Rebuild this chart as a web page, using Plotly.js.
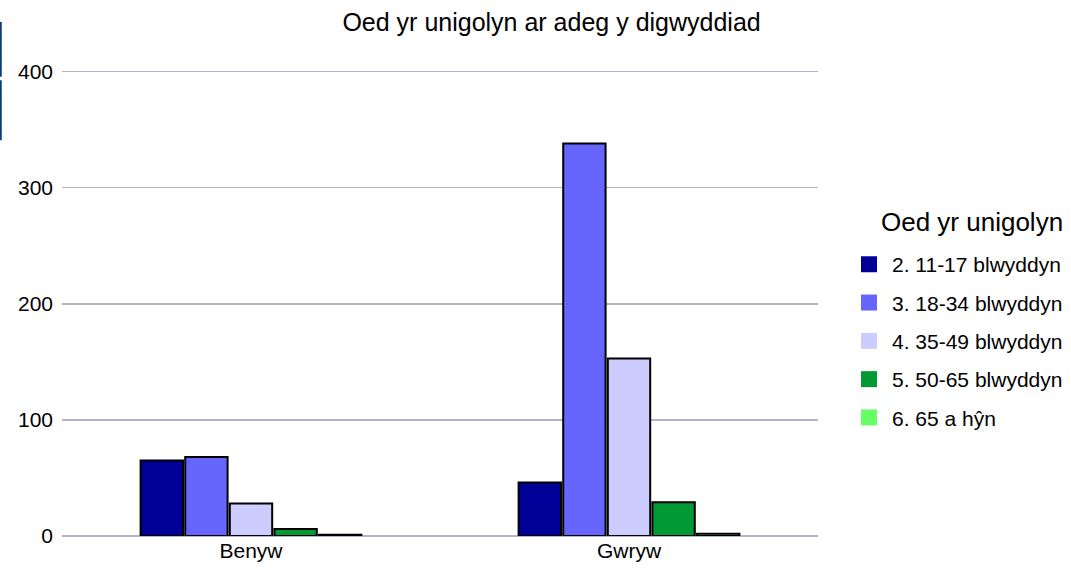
<!DOCTYPE html>
<html>
<head>
<meta charset="utf-8">
<script src="https://cdn.plot.ly/plotly-3.0.1.min.js"></script>
<style>html,body{margin:0;padding:0;background:#fff;}#chart{width:1071px;height:573px;}</style>
</head>
<body>
<div id="chart"></div>
<script>
const categories = ["Benyw", "Gwryw"];
const seriesNames = ["2. 11-17 blwyddyn", "3. 18-34 blwyddyn", "4. 35-49 blwyddyn", "5. 50-65 blwyddyn", "6. 65 a hŷn"];
const s2 = [65, 46];
const s3 = [68, 338];
const s4 = [28, 153];
const s5 = [6, 29];
const s6 = [1, 2];
const seriesValues = [s2, s3, s4, s5, s6];
const colors = ["#000099", "#6666ff", "#ccccff", "#009933", "#66ff66"];
const yTicks = [0, 100, 200, 300, 400];
const legendTitle = "Oed yr unigolyn";
const chartTitle = "Oed yr unigolyn ar adeg y digwyddiad";

const barTraces = seriesNames.map((name, i) => ({
  type: "bar",
  name: name,
  x: categories,
  y: seriesValues[i],
  showlegend: false,
  marker: {color: colors[i], line: {color: "#000000", width: 2}},
  hoverinfo: "x+y+name"
}));

const legendTraces = seriesNames.map((name, i) => ({
  type: "scatter",
  mode: "markers",
  name: name,
  x: [null],
  y: [null],
  xaxis: "x2",
  yaxis: "y2",
  legendgroup: "g" + i,
  marker: {color: colors[i], symbol: "square", size: 16, line: {width: 0}}
}));

const layout = {
  width: 1071,
  height: 573,
  paper_bgcolor: "#ffffff",
  plot_bgcolor: "#ffffff",
  font: {family: "Liberation Sans, Arial, sans-serif", color: "#000000"},
  title: {text: chartTitle, font: {size: 25}, x: 0.515, xanchor: "center", xref: "container", y: 0.962, yanchor: "middle", yref: "container"},
  margin: {l: 62, r: 253, t: 67, b: 37},
  barmode: "group",
  bargap: 0.41,
  bargroupgap: 0.05,
  xaxis: {
    type: "category",
    showgrid: false,
    showline: false,
    zeroline: false,
    ticks: "",
    tickfont: {size: 21}
  },
  yaxis: {
    range: [0, 404],
    tickvals: yTicks,
    showgrid: true,
    gridcolor: "#b3b3cc",
    gridwidth: 1.5,
    zeroline: true,
    zerolinecolor: "#b3b3cc",
    zerolinewidth: 1.5,
    showline: false,
    ticks: "",
    ticklabelstandoff: 8,
    tickfont: {size: 21}
  },
  xaxis2: {overlaying: "x", visible: false},
  yaxis2: {overlaying: "y", visible: false},
  legend: {
    xref: "container",
    yref: "container",
    x: 0.7899,
    xanchor: "left",
    y: 0.574,
    yanchor: "top",
    font: {size: 21},
    tracegroupgap: 8,
    itemwidth: 36,
    itemsizing: "trace",
    bgcolor: "rgba(0,0,0,0)"
  },
  showlegend: true,
  annotations: [{
    text: legendTitle, xref: "paper", yref: "paper",
    x: 1.204, y: 0.669, xanchor: "center", yanchor: "middle",
    showarrow: false, font: {size: 26}
  }],
  shapes: [
    {type: "line", xref: "paper", yref: "paper", x0: -0.081, x1: -0.081, y0: 1.096, y1: 0.979, line: {color: "#0a3d7a", width: 2}},
    {type: "line", xref: "paper", yref: "paper", x0: -0.081, x1: -0.081, y0: 0.972, y1: 0.844, line: {color: "#0a3d7a", width: 2}}
  ]
};

Plotly.newPlot("chart", barTraces.concat(legendTraces), layout, {displayModeBar: false, staticPlot: true});
</script>
</body>
</html>
